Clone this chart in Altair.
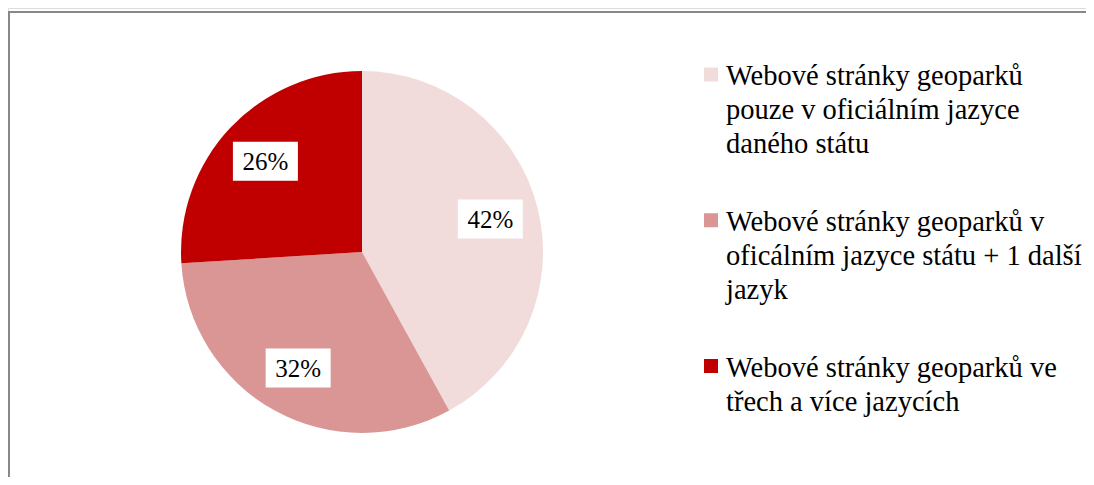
import altair as alt
import pandas as pd

# ---- data ----
categories = [
    "Webové stránky geoparků pouze v oficiálním jazyce daného státu",
    "Webové stránky geoparků v oficálním jazyce státu + 1 další jazyk",
    "Webové stránky geoparků ve třech a více jazycích",
]
legend_lines = [
    ["Webové stránky geoparků", "pouze v oficiálním jazyce", "daného státu"],
    ["Webové stránky geoparků v", "oficálním jazyce státu + 1 další", "jazyk"],
    ["Webové stránky geoparků ve", "třech a více jazycích"],
]
values = [42, 32, 26]
colors = ["#F2DCDB", "#D99694", "#C00000"]

df = pd.DataFrame({
    "idx": list(range(len(categories))),
    "category": categories,
    "value": values,
    "legend": ["\n".join(l) for l in legend_lines],
})

# ---- layout constants (view coordinates) ----
CX, CY, R = 354, 244, 181
LABEL_R = 132.5
FONT = "'Liberation Serif', 'Times New Roman', serif"

color_scale = alt.Scale(domain=categories, range=colors)

base = alt.Chart(df)

pie = base.mark_arc(outerRadius=R, stroke=None).encode(
    theta=alt.Theta("value:Q", stack=True),
    color=alt.Color("category:N", scale=color_scale, legend=None),
    order=alt.Order("idx:Q"),
    x=alt.value(CX),
    y=alt.value(CY),
)

pos = (
    base.transform_window(cum="sum(value)", sort=[{"field": "idx"}])
    .transform_joinaggregate(total="sum(value)")
    .transform_calculate(
        mid="(datum.cum - datum.value / 2) / datum.total * 2 * PI",
        pct="round(datum.value / datum.total * 100) + '%'",
    )
    .transform_calculate(
        px=f"{CX} + {LABEL_R} * sin(datum.mid)",
        py=f"{CY} - {LABEL_R} * cos(datum.mid)",
    )
    .transform_calculate(
        bx1="datum.px - 32.5", bx2="datum.px + 32.5",
        by1="datum.py - 19.5", by2="datum.py + 19.5",
    )
)

boxes = pos.mark_rect(fill="white", stroke=None).encode(
    x=alt.X("bx1:Q", scale=None, axis=None),
    x2="bx2:Q",
    y=alt.Y("by1:Q", scale=None, axis=None),
    y2="by2:Q",
)

labels = pos.mark_text(font=FONT, fontSize=25, color="black",
                       align="center", baseline="middle", dy=1).encode(
    x=alt.X("px:Q", scale=None, axis=None),
    y=alt.Y("py:Q", scale=None, axis=None),
    text="pct:N",
)

leg = base.transform_calculate(
    sy="66.5 + datum.idx * 145.75",
    ty="77 + datum.idx * 145.75",
)

leg_sq = leg.mark_square(size=196, opacity=1).encode(
    x=alt.value(703),
    y=alt.Y("sy:Q", scale=None, axis=None),
    color=alt.Color("category:N", scale=color_scale, legend=None),
)

leg_txt = leg.mark_text(font=FONT, fontSize=28.5, color="black", align="left",
                        baseline="alphabetic", lineBreak="\n", lineHeight=34).encode(
    x=alt.value(718),
    y=alt.Y("ty:Q", scale=None, axis=None),
    text="legend:N",
)

frame = alt.Chart(alt.Data(values=[{"a": 1}])).mark_rect(
    fill=None, stroke="#888888", strokeWidth=2
).encode(
    x=alt.value(1), x2=alt.value(1300), y=alt.value(4), y2=alt.value(700)
)

chart = alt.layer(frame, pie, boxes, labels, leg_sq, leg_txt).properties(
    width=1078, height=469, padding=0,
    autosize=alt.AutoSizeParams(type="none"),
).configure_view(stroke=None).configure(background="white")

chart.save("out.html", embed_options={"renderer": "svg", "actions": False})
